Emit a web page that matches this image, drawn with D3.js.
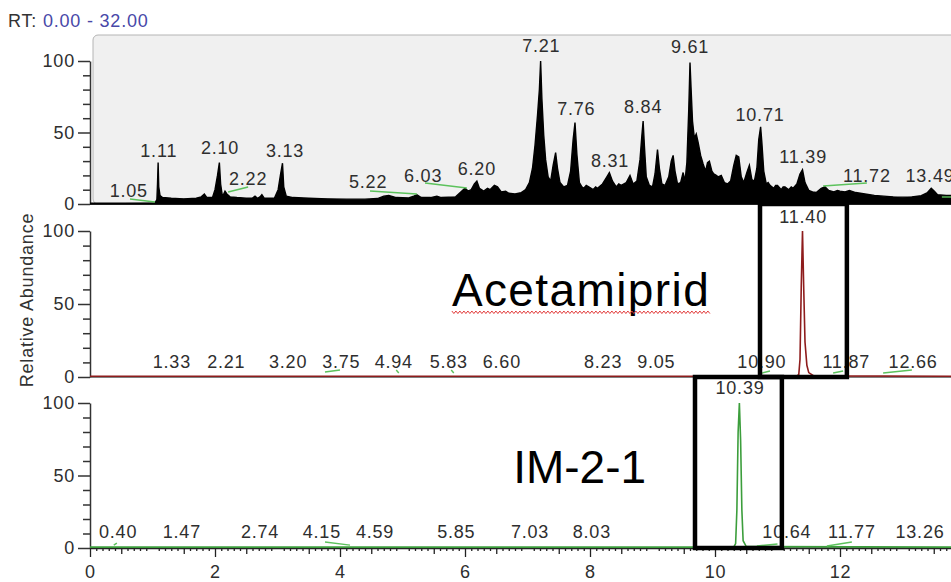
<!DOCTYPE html>
<html>
<head>
<meta charset="utf-8">
<script src="https://cdn.jsdelivr.net/npm/d3@7"></script>
<style>
  body { margin: 0; background: #fff; }
  svg text { font-family: "Liberation Sans", Arial, sans-serif; }
  .tick text { font-size: 18px; fill: #2e2e2e; letter-spacing: 0.8px; }
  .peak_label { font-size: 18px; fill: #2e2e2e; letter-spacing: 0.8px; text-anchor: middle; }
  .compound { font-size: 46px; fill: #000; }
</style>
</head>
<body>
<svg id="chrom" width="951" height="582"></svg>
<script>
// Values: retention time (min), relative abundance (%)
var tic_points = [
  [0, 0.6], [1.04, 0.8], [1.07, 3], [1.08, 14], [1.09, 29], [1.1, 12], [1.12, 6], [1.16, 4.5],
  [1.3, 4], [1.5, 3.6], [1.7, 4], [1.78, 5], [1.83, 7], [1.87, 4.5], [1.96, 4.5], [2.0, 10],
  [2.04, 20], [2.07, 29], [2.09, 14], [2.12, 5], [2.16, 9], [2.19, 7], [2.24, 5], [2.35, 4.5],
  [2.5, 4], [2.6, 4.2], [2.64, 5.5], [2.68, 4], [2.72, 5], [2.75, 6.5], [2.79, 4], [2.95, 4],
  [3.01, 10], [3.05, 21], [3.08, 28.5], [3.1, 12], [3.14, 5.5], [3.25, 4.5], [3.5, 4], [3.8, 3.6],
  [4.1, 3.4], [4.4, 3.4], [4.6, 3.8], [4.7, 5.5], [4.78, 6], [4.9, 4.5], [5.1, 4.2], [5.18, 5.5],
  [5.23, 6.5], [5.3, 4.5], [5.45, 4.5], [5.55, 5.5], [5.62, 4.5], [5.85, 5], [5.95, 9], [6.0, 11],
  [6.05, 9], [6.1, 10], [6.15, 14], [6.19, 16], [6.23, 11], [6.3, 9], [6.36, 11], [6.4, 10], [6.47, 13],
  [6.52, 12], [6.58, 8.5], [6.65, 9], [6.7, 7.5], [6.8, 7], [6.9, 8], [6.97, 10], [7.03, 15], [7.08, 25],
  [7.12, 41], [7.16, 62], [7.19, 80], [7.21, 100], [7.23, 74], [7.26, 48], [7.29, 31], [7.33, 19],
  [7.37, 16], [7.41, 27], [7.45, 36], [7.48, 25], [7.52, 15], [7.58, 12], [7.64, 13], [7.69, 23],
  [7.73, 45], [7.76, 57], [7.79, 35], [7.83, 15], [7.87, 12], [7.9, 11], [7.94, 13], [7.98, 12], [8.05, 10],
  [8.09, 12], [8.12, 11], [8.2, 14], [8.27, 19], [8.31, 22], [8.36, 16], [8.42, 12], [8.46, 14], [8.5, 13],
  [8.58, 15], [8.64, 20], [8.69, 14], [8.75, 16], [8.8, 31], [8.83, 48], [8.85, 58], [8.87, 41],
  [8.9, 19], [8.95, 13], [9.0, 12], [9.04, 21], [9.08, 38], [9.11, 25], [9.15, 14], [9.2, 13],
  [9.26, 19], [9.3, 30], [9.33, 34], [9.36, 23], [9.4, 14], [9.45, 15], [9.49, 22], [9.52, 16],
  [9.55, 29], [9.58, 66], [9.6, 99], [9.62, 78], [9.64, 58], [9.67, 46], [9.7, 49], [9.73, 43],
  [9.77, 34], [9.81, 28], [9.85, 23], [9.88, 29], [9.91, 30], [9.95, 23], [9.98, 21], [10.02, 20],
  [10.05, 19], [10.1, 20], [10.15, 15], [10.2, 14], [10.25, 16], [10.3, 27], [10.34, 34], [10.38, 33],
  [10.42, 19], [10.46, 15], [10.51, 22], [10.55, 27], [10.59, 17], [10.63, 16], [10.67, 25], [10.7, 45],
  [10.73, 54], [10.75, 43], [10.78, 23], [10.82, 14], [10.85, 15], [10.88, 13], [10.94, 11], [10.97, 13],
  [11.0, 13], [11.06, 10], [11.09, 12], [11.12, 12], [11.18, 10], [11.22, 12], [11.25, 11], [11.31, 14],
  [11.36, 21], [11.4, 24], [11.44, 15], [11.5, 9.5], [11.56, 8.5], [11.62, 8], [11.7, 11], [11.76, 12],
  [11.82, 9.5], [11.9, 8.5], [11.96, 9.5], [12.0, 9], [12.08, 8.5], [12.15, 9.5], [12.25, 8], [12.4, 7],
  [12.55, 6], [12.7, 5.5], [12.85, 5], [13.0, 4.8], [13.15, 5], [13.3, 5.8], [13.4, 8], [13.46, 11],
  [13.51, 9], [13.56, 6.5], [13.7, 6], [13.8, 6]
];
var acetamiprid_points = [
  [0, 0.5], [11.3, 0.5], [11.34, 1.5], [11.36, 12], [11.38, 62], [11.4, 100],
  [11.42, 60], [11.44, 24], [11.47, 8], [11.5, 3], [11.58, 0.8], [13.8, 0.5]
];
var im_points = [
  [0, 0.6], [10.3, 0.6], [10.33, 3], [10.35, 26], [10.37, 80], [10.39, 100],
  [10.41, 74], [10.43, 26], [10.45, 5], [10.5, 1], [13.8, 0.6]
];

// Peak labels: text, RT of label, abundance level of label baseline
var tic_labels = [
  ["1.05", 0.62, 4.9], ["1.11", 1.1, 32.9], ["2.10", 2.08, 35], ["2.22", 2.53, 13.3],
  ["3.13", 3.12, 32.9], ["5.22", 4.45, 11.2], ["6.03", 5.33, 15.4], ["6.20", 6.19, 20.3],
  ["7.21", 7.22, 106.3], ["7.76", 7.78, 62.2], ["8.31", 8.32, 25.9], ["8.84", 8.85, 63.6],
  ["9.61", 9.6, 105.6], ["10.71", 10.72, 58], ["11.39", 11.41, 28.7], ["11.72", 12.43, 15.4],
  ["13.49", 13.44, 15.4]
];
var acetamiprid_labels = [
  ["1.33", 1.31, 6.2], ["2.21", 2.18, 6.2], ["3.20", 3.17, 6.2], ["3.75", 4.02, 6.2],
  ["4.94", 4.86, 6.2], ["5.83", 5.74, 6.2], ["6.60", 6.59, 6.2], ["8.23", 8.21, 6.2],
  ["9.05", 9.06, 6.2], ["10.90", 10.75, 6.2], ["11.40", 11.41, 105.5], ["11.87", 12.1, 6.2],
  ["12.66", 13.17, 6.2]
];
var im_labels = [
  ["0.40", 0.45, 6.9], ["1.47", 1.47, 6.9], ["2.74", 2.72, 6.9], ["4.15", 3.71, 6.9],
  ["4.59", 4.56, 6.9], ["5.85", 5.86, 6.9], ["7.03", 7.04, 6.9], ["8.03", 8.03, 6.9],
  ["10.39", 10.4, 106], ["10.64", 11.15, 6.9], ["11.77", 12.19, 6.9], ["13.26", 13.28, 6.9]
];

// Integration baselines (green): rt1, abundance1, rt2, abundance2
var tic_baselines = [
  [0.64, 3.5, 1.04, 1.4], [2.21, 8.4, 2.53, 11.9], [4.48, 9.1, 5.23, 7.0],
  [5.36, 14.7, 6.03, 11.2], [11.73, 12.6, 12.43, 14.7], [13.63, 4.9, 13.9, 4.9]
];
var acetamiprid_baselines = [
  [3.76, 3.4, 4.0, 4.8], [4.9, 4.8, 4.94, 2.7], [5.78, 4.8, 5.82, 2.7],
  [10.75, 2.7, 10.88, 4.1], [11.89, 2.7, 12.05, 4.1], [12.69, 2.7, 13.15, 4.8]
];
var im_baselines = [
  [0.38, 2, 0.43, 3.4], [3.76, 4.1, 4.16, 2], [10.67, 1.4, 11.0, 2.8], [11.79, 1.4, 12.19, 4.1]
];

// Highlight boxes: RT from, RT to
var acetamiprid_box = [10.72, 12.11];
var im_box = [9.68, 11.07];

var x_major = [0, 2, 4, 6, 8, 10, 12];
var y_major = [0, 50, 100];

var svg = d3.select("svg#chrom");
var width = 951;

var xScale = d3.scaleLinear()
  .domain([0, 13.776])
  .range([90, width]);

// one y scale per stacked panel
var y1 = d3.scaleLinear().domain([0, 100]).range([204, 61]);
var y2 = d3.scaleLinear().domain([0, 100]).range([377, 231]);
var y3 = d3.scaleLinear().domain([0, 100]).range([548, 403]);

svg.append("defs").append("clipPath")
  .attr("id", "plot_clip")
  .append("rect")
  .attr("x", 90).attr("y", 0)
  .attr("width", width - 90).attr("height", 582);

// header
var header = svg.append("text")
  .attr("x", 8)
  .attr("y", 27)
  .style("font-size", "18px")
  .style("letter-spacing", "0.8px");
header.append("tspan").attr("fill", "#333").text("RT: ");
header.append("tspan").attr("fill", "#4848a8").text("0.00 - 32.00");

// grey background of the top (TIC) panel
svg.append("rect")
  .attr("x", 93)
  .attr("y", 35)
  .attr("width", width)
  .attr("height", y1(0) - 35)
  .attr("rx", 5)
  .attr("fill", "#f0f0f0")
  .attr("stroke", "#b4b4b4")
  .attr("stroke-width", 1);

var draw_y_axis = function(yScale) {
  var g = svg.append("g")
    .attr("class", "yAxis")
    .attr("transform", "translate(90,0)");
  g.call(d3.axisLeft(yScale).tickValues(y_major).tickSize(12).tickSizeOuter(0).tickPadding(3));
  g.append("g")
    .call(d3.axisLeft(yScale).tickValues(d3.range(10, 100, 10).filter(function(d) { return d != 50; }))
      .tickSize(7).tickSizeOuter(0).tickFormat(""))
    .select(".domain").remove();
  g.selectAll("path, line").attr("stroke", "#333").attr("stroke-width", 1.5);
  // zero line of the panel
  svg.append("line")
    .attr("x1", 90).attr("x2", width)
    .attr("y1", yScale(0)).attr("y2", yScale(0))
    .attr("stroke", "#555").attr("stroke-width", 1.5);
};

draw_y_axis(y1);
draw_y_axis(y2);
draw_y_axis(y3);

// bottom RT axis with minor ticks
var xg = svg.append("g")
  .attr("class", "xAxis")
  .attr("transform", "translate(0," + y3(0) + ")");
xg.call(d3.axisBottom(xScale).tickValues(x_major).tickSize(9).tickSizeOuter(0).tickPadding(8).tickFormat(d3.format("d")));
xg.append("g")
  .call(d3.axisBottom(xScale).tickValues(d3.range(0.5, 13.8, 1)).tickSize(6).tickFormat(""))
  .select(".domain").remove();
xg.append("g")
  .call(d3.axisBottom(xScale).tickValues(d3.range(0, 13.8, 0.1).filter(function(d) {
    return Math.abs(d * 2 - Math.round(d * 2)) > 0.01;
  })).tickSize(3).tickFormat(""))
  .select(".domain").remove();
xg.selectAll("path, line").attr("stroke", "#222").attr("stroke-width", 1.3);

// TIC as a filled black trace
var tic_area = d3.area()
  .x(function(d) { return xScale(d[0]); })
  .y0(y1(0))
  .y1(function(d) { return y1(d[1]); });

svg.append("path")
  .attr("clip-path", "url(#plot_clip)")
  .attr("d", tic_area(tic_points))
  .attr("fill", "#000")
  .attr("stroke", "#000")
  .attr("stroke-width", 1.4);

var draw_trace = function(points, yScale, colour) {
  var line = d3.line()
    .x(function(d) { return xScale(d[0]); })
    .y(function(d) { return yScale(d[1]); });
  svg.append("path")
    .attr("clip-path", "url(#plot_clip)")
    .attr("d", line(points))
    .attr("fill", "none")
    .attr("stroke", colour)
    .attr("stroke-width", 1.6);
};

draw_trace(acetamiprid_points, y2, "#8e1c1c");
draw_trace(im_points, y3, "#3c9e3c");

var draw_baselines = function(segs, yScale) {
  svg.append("g")
    .attr("clip-path", "url(#plot_clip)")
    .selectAll("line")
    .data(segs)
    .enter()
    .append("line")
    .attr("x1", function(d) { return xScale(d[0]); })
    .attr("y1", function(d) { return yScale(d[1]); })
    .attr("x2", function(d) { return xScale(d[2]); })
    .attr("y2", function(d) { return yScale(d[3]); })
    .attr("stroke", "#5cc25c")
    .attr("stroke-width", 1.4);
};

draw_baselines(tic_baselines, y1);
draw_baselines(acetamiprid_baselines, y2);
draw_baselines(im_baselines, y3);

var draw_labels = function(labels, yScale) {
  svg.append("g")
    .selectAll("text")
    .data(labels)
    .enter()
    .append("text")
    .attr("class", "peak_label")
    .attr("x", function(d) { return xScale(d[1]); })
    .attr("y", function(d) { return yScale(d[2]); })
    .text(function(d) { return d[0]; });
};

draw_labels(tic_labels, y1);
draw_labels(acetamiprid_labels, y2);
draw_labels(im_labels, y3);

// y title
svg.append("text")
  .attr("transform", "translate(33," + 300 + ") rotate(-90)")
  .style("text-anchor", "middle")
  .style("font-size", "18px")
  .style("letter-spacing", "0.8px")
  .attr("fill", "#333")
  .text("Relative Abundance");

// compound names
var acet = svg.append("text")
  .attr("class", "compound")
  .attr("x", xScale(5.79))
  .attr("y", y2(48.6))
  .style("letter-spacing", "1.4px")
  .text("Acetamiprid");

// red spell-check squiggle under the name
var bb = acet.node().getBBox();
var wave = [];
for (var wx = bb.x; wx <= bb.x + bb.width; wx += 2) {
  wave.push([wx, y2(48.6) + 6 + ((Math.round((wx - bb.x) / 2) % 2) ? 1.5 : -1)]);
}
svg.append("path")
  .attr("d", d3.line()(wave))
  .attr("fill", "none")
  .attr("stroke", "#e23a3a")
  .attr("stroke-width", 1);

svg.append("text")
  .attr("class", "compound")
  .attr("x", xScale(6.77))
  .attr("y", y3(44.8))
  .text("IM-2-1");

// highlight boxes, from the panel above's zero line to the panel's own zero line
var draw_box = function(box, yTop, yBottom) {
  svg.append("rect")
    .attr("x", xScale(box[0]))
    .attr("y", yTop(0))
    .attr("width", xScale(box[1]) - xScale(box[0]))
    .attr("height", yBottom(0) - yTop(0))
    .attr("fill", "none")
    .attr("stroke", "#000")
    .attr("stroke-width", 4.5);
};

draw_box(acetamiprid_box, y1, y2);
draw_box(im_box, y2, y3);
</script>
</body>
</html>
